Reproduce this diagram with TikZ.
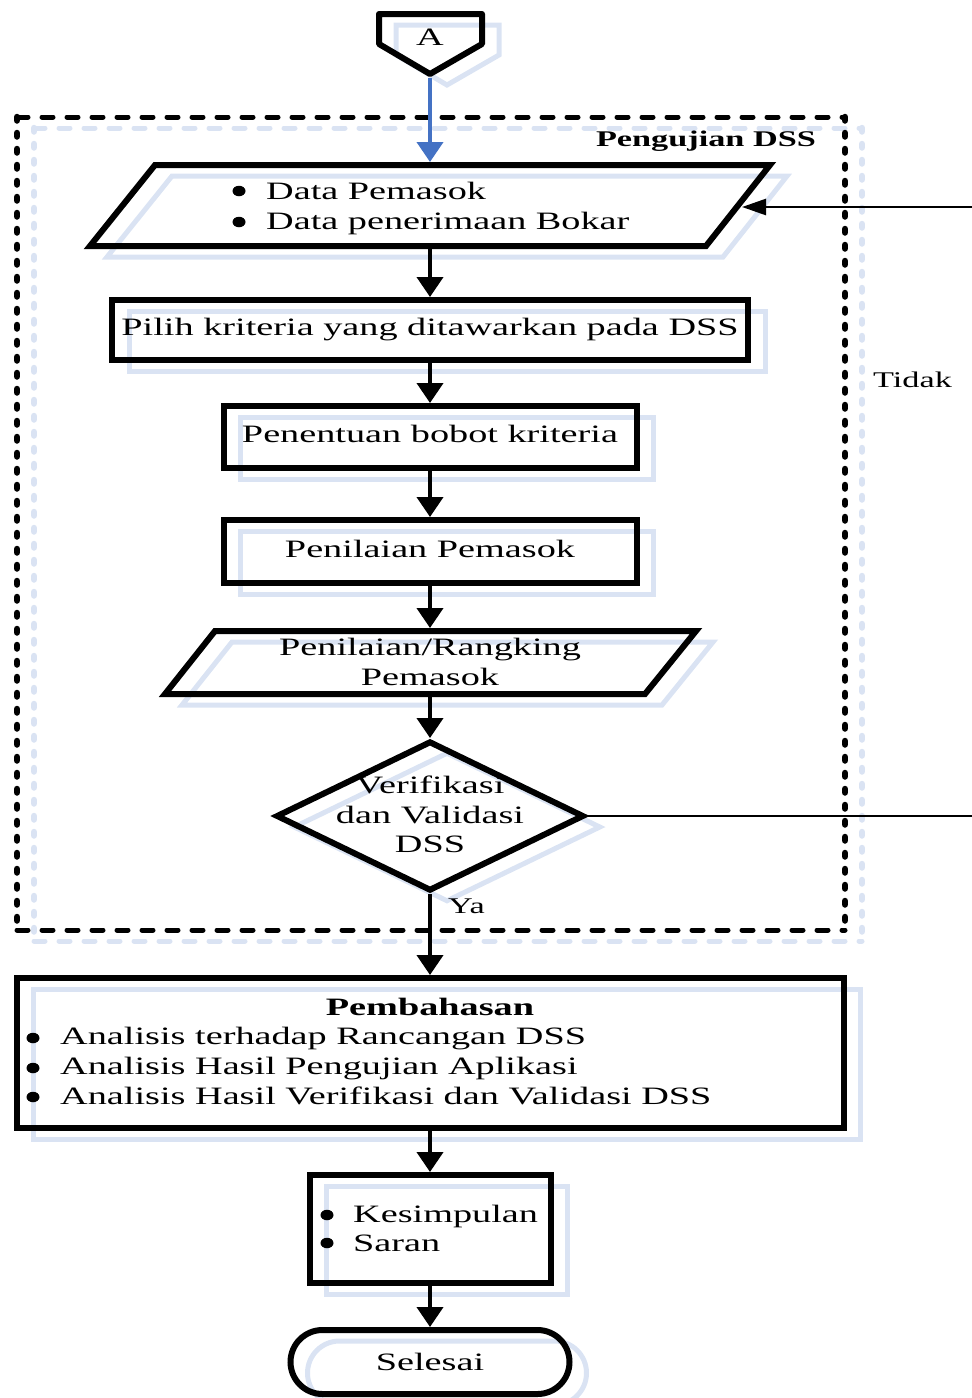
\documentclass[tikz,border=0pt]{standalone}
\usepackage{fontspec}
\setmainfont{Liberation Serif}[FakeStretch=1.53]
\usetikzlibrary{arrows.meta,shapes.geometric}
\definecolor{shadowblue}{RGB}{218,227,243}
\definecolor{linkblue}{RGB}{68,114,196}
\begin{document}
\begin{tikzpicture}[x=1pt,y=-1pt,
  font=\fontsize{25}{30}\selectfont,
  shad/.style={preaction={draw=shadowblue,line width=5pt,transform canvas={shift={(17pt,-11pt)}}}},
  outl/.style={draw=black,line width=6pt,inner sep=0pt,shad},
  proc/.style={outl,rectangle,text height=17.5pt,text depth=6.25pt},
  dec/.style={outl,diamond},
  term/.style={outl,rectangle,rounded corners=32pt,text height=19pt,text depth=3pt},
  flow/.style={line width=4pt,-{Triangle[width=26pt,length=20pt]}},
  flowblue/.style={line width=4pt,draw=linkblue,-{Triangle[width=26pt,length=20pt,fill=linkblue]}},
  loopline/.style={line width=2.5pt},
  looparrow/.style={line width=2.5pt,-{Triangle[width=16pt,length=24pt]}},
  txt/.style={inner sep=0pt,anchor=base},
  txtl/.style={inner sep=0pt,anchor=base west},
  bul/.style={ellipse,fill=black,inner sep=0pt,minimum width=13pt,minimum height=10.5pt},
  small/.style={font=\fontsize{22.4}{27}\selectfont},
  hdash/.style={line width=5pt,line cap=round,dash pattern=on 11pt off 14pt},
  vdash/.style={line width=6.5pt,line cap=round,dash pattern=on 3.5pt off 12.5pt},
]
\useasboundingbox (0,0) rectangle (972,1398);

% dashed frame "Pengujian DSS" (shadow first)
\begin{scope}[shift={(17,11)}]
  \draw[hdash,shadowblue] (17,117) -- (845,117);
  \draw[hdash,shadowblue] (17,930) -- (845,930);
  \draw[vdash,shadowblue] (17,117) -- (17,930);
  \draw[vdash,shadowblue] (845,117) -- (845,930);
\end{scope}
\draw[hdash] (17,117) -- (845,117);
\draw[hdash] (17,930) -- (845,930);
\draw[vdash] (17,117) -- (17,930);
\draw[vdash] (845,117) -- (845,930);
\node[txt,font=\bfseries\fontsize{22.4}{27}\selectfont] (frameTitle) at (706,146) {Pengujian DSS};

% off-page connector A
\draw[outl,line join=round] (379,14) -- (482,14) -- (482,44) -- (430,74) -- (379,44) -- cycle;
\node[txt] (tA) at (430,45) {A};
\coordinate (Atip) at (430,78);

% data shapes (parallelograms)
\draw[outl] (155,165) -- (770,165) -- (706,246) -- (90,246) -- cycle;
\coordinate (p1n) at (430,162);
\coordinate (p1s) at (430,249);
\coordinate (p1e) at (742,207);
\draw[outl] (215,631) -- (696,631) -- (645,694) -- (165,694) -- cycle;
\coordinate (p5n) at (430,628);
\coordinate (p5s) at (430,697);

% other shapes
\node[proc,minimum width=636pt,minimum height=60pt] (r2) at (430,330) {Pilih kriteria yang ditawarkan pada DSS};
\node[proc,minimum width=413pt,minimum height=62pt] (r3) at (430,437) {Penentuan bobot kriteria};
\node[proc,minimum width=413pt,minimum height=63pt] (r4) at (430,551.5) {Penilaian Pemasok};
\node[dec,minimum width=308pt,minimum height=150pt] (d6) at (430,816) {};
\node[outl,rectangle,minimum width=827pt,minimum height=150pt] (r7) at (430,1053) {};
\node[outl,rectangle,minimum width=241pt,minimum height=108pt] (r8) at (430,1229) {};
\node[term,minimum width=279pt,minimum height=64pt] (t9) at (430,1362) {Selesai};

% texts in shapes
\node[bul] (b1a) at (239,191) {};
\node[txtl] (l1a) at (266,199) {Data Pemasok};
\node[bul] (b1b) at (239,222) {};
\node[txtl] (l1b) at (266,229) {Data penerimaan Bokar};

\node[txt] (l5a) at (430,655) {Penilaian/Rangking};
\node[txt] (l5b) at (430,685) {Pemasok};

\node[txt] (l6a) at (430,793) {Verifikasi};
\node[txt] (l6b) at (430,823) {dan Validasi};
\node[txt] (l6c) at (430,852) {DSS};

\node[txt,font=\bfseries\fontsize{25}{30}\selectfont] (l7t) at (430,1015) {Pembahasan};
\node[bul] (b7a) at (33,1038) {};
\node[txtl] (l7a) at (60,1044) {Analisis terhadap Rancangan DSS};
\node[bul] (b7b) at (33,1068) {};
\node[txtl] (l7b) at (60,1074) {Analisis Hasil Pengujian Aplikasi};
\node[bul] (b7c) at (33,1097) {};
\node[txtl] (l7c) at (60,1104) {Analisis Hasil Verifikasi dan Validasi DSS};

\node[bul] (b8a) at (327,1215) {};
\node[txtl] (l8a) at (353,1222) {Kesimpulan};
\node[bul] (b8b) at (327,1243) {};
\node[txtl] (l8b) at (353,1251) {Saran};

% connectors
\draw[flowblue] (Atip) -- (p1n);
\draw[flow] (p1s) -- (r2.north);
\draw[flow] (r2.south) -- (r3.north);
\draw[flow] (r3.south) -- (r4.north);
\draw[flow] (r4.south) -- (p5n);
\draw[flow] (p5s) -- (d6.north);
\draw[flow] (d6.south) -- (r7.north);
\draw[flow] (r7.south) -- (r8.north);
\draw[flow] (r8.south) -- (t9.north);

% "Tidak" loop
\coordinate (tidakR) at (972,816);
\coordinate (tidakT) at (972,207);
\draw[loopline] (d6.east) -- (tidakR);
\draw[looparrow] (tidakT) -- (p1e);
\node[txtl,small] (lTidak) at (873,387) {Tidak};
\node[txtl,small] (lYa) at (448,913) {Ya};
\end{tikzpicture}
\end{document}
